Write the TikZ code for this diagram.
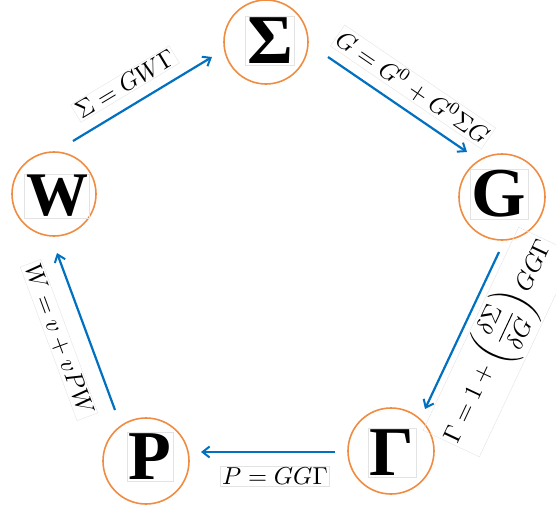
\documentclass[tikz,border=0pt]{standalone}
\usepackage{amsmath}
\usepackage{fontspec}
\newfontfamily\bigserif{Liberation Serif}
\usetikzlibrary{arrows.meta}
\definecolor{ringorange}{RGB}{240,140,65}
\definecolor{arrowblue}{RGB}{0,112,192}
\tikzset{
  ring/.style={circle, draw=ringorange, line width=1.6pt, minimum size=84pt, inner sep=0pt},
  letter/.style={draw=gray!22, line width=0.4pt, inner sep=1.5pt, font=\bigserif\bfseries\fontsize{70}{70}\selectfont},
  eqlabel/.style={draw=gray!22, line width=0.4pt, inner sep=0.7pt, scale=2.45},
  flow/.style={draw=arrowblue, line width=2.2pt, -{Straight Barb[length=7pt,width=11pt,line width=2pt]}}
}
\begin{document}
\begin{tikzpicture}[x=1pt,y=-1pt]
\useasboundingbox (0,0) rectangle (556,506);
% rings
\node[ring] (rs) at (266,42) {};
\node[ring, minimum size=86pt] (rg) at (502,197) {};
\node[ring, minimum size=86pt] (rc) at (391,451) {};
\node[ring, minimum size=86pt] (rp) at (146,461) {};
\node[ring] (rw) at (54,194) {};
% letters
\node[letter] (ls) at (270,41) {Σ};
\node[letter] (lg) at (499,194) {G};
\node[letter] (lc) at (392,453) {Γ};
\node[letter] (lp) at (150,457) {P};
\node[letter, font=\bigserif\bfseries\fontsize{62}{62}\selectfont] (lw) at (57,196) {W};
% arrow ends
\coordinate (ws-a) at (73,141);
\coordinate (ws-b) at (212,57);
\coordinate (sg-a) at (328,57);
\coordinate (sg-b) at (467,152);
\coordinate (gc-a) at (499,252);
\coordinate (gc-b) at (425,409);
\coordinate (cp-a) at (335,452);
\coordinate (cp-b) at (201,452);
\coordinate (pw-a) at (115,410);
\coordinate (pw-b) at (57,253);
\draw[flow] (ws-a) -- (ws-b);
\draw[flow] (sg-a) -- (sg-b);
\draw[flow] (gc-a) -- (gc-b);
\draw[flow] (cp-a) -- (cp-b);
\draw[flow] (pw-a) -- (pw-b);
% labels
\node[eqlabel, rotate=31] (eq1) at (125,84) {$\Sigma = GW\Gamma$};
\node[eqlabel, rotate=-34.3] (eq2) at (413,87) {$G = G^0 + G^0\Sigma G$};
\node[eqlabel, rotate=64.8] (eq3) at (499,342) {$\Gamma = 1 + \left(\dfrac{\delta\Sigma}{\delta G}\right) GG\Gamma$};
\node[eqlabel] (eq4) at (275,476) {$P = GG\Gamma$};
\node[eqlabel, rotate=-69.7] (eq5) at (59,340) {$W = v + vPW$};
\end{tikzpicture}
\end{document}
